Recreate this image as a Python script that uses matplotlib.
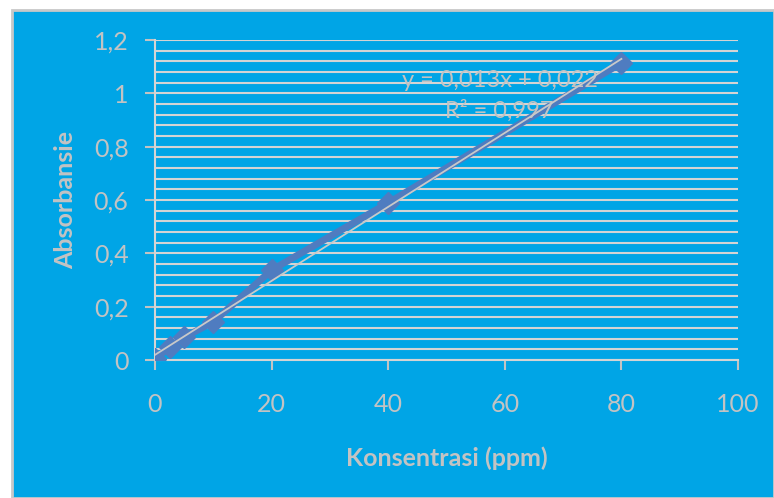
import numpy as np
import matplotlib
matplotlib.use("Agg")
import matplotlib.pyplot as plt
from matplotlib.patches import Rectangle

# data
konsentrasi = [0, 2.5, 5, 10, 20, 40, 80]
absorbansi = [0.005, 0.047, 0.085, 0.143, 0.337, 0.589, 1.114]
x_ticks = [0, 20, 40, 60, 80, 100]
y_ticks = [0, 0.2, 0.4, 0.6, 0.8, 1.0, 1.2]
y_tick_labels = ["0", "0,2", "0,4", "0,6", "0,8", "1", "1,2"]
eq_text = "y = 0,013x + 0,022"
r2_text = "R² = 0,997"

BG = "#00A5E6"
GRID = "#D4D4D4"
TXT = "#C3C3C3"
SERIES = "#4F7CC0"

plt.rcParams["font.family"] = ["Lato", "DejaVu Sans"]

fig = plt.figure(figsize=(7.74, 4.98), dpi=100)
fig.patch.set_facecolor("white")
fig.patches.append(Rectangle((12 / 774, 0), 1 - 12 / 774, 1 - 10 / 498,
                             transform=fig.transFigure, facecolor=BG,
                             edgecolor="#C8C8C8", lw=2, zorder=-10))

ax = fig.add_axes([155 / 774, 1 - 360 / 498, (738 - 155) / 774, 320 / 498])
ax.set_zorder(5)
ax.set_facecolor("none")
ax.set_xlim(0, 100)
ax.set_ylim(0, 1.2)

for g in np.arange(0, 1.2001, 0.04):
    ax.axhline(g, color=GRID, lw=1.5, zorder=1)

# series line + markers
ax.plot(konsentrasi, absorbansi, color=SERIES, lw=5, marker="D", ms=11,
        mfc=SERIES, mec=SERIES, zorder=3, solid_capstyle="butt")

# linear trendline
k, b = np.polyfit(konsentrasi, absorbansi, 1)
tx = np.array([0, max(konsentrasi)])
ax.plot(tx, k * tx + b, color="#C9C9C9", lw=1.3, zorder=4)

ax.text(0.591, 0.875, eq_text, transform=ax.transAxes, ha="center", va="center",
        color=TXT, fontsize=17)
ax.text(0.591, 0.78, r2_text, transform=ax.transAxes, ha="center", va="center",
        color=TXT, fontsize=17)

for s in ["top", "right"]:
    ax.spines[s].set_visible(False)
for s in ["left", "bottom"]:
    ax.spines[s].set_color(GRID)
    ax.spines[s].set_linewidth(1.5)

ax.set_xticks(x_ticks)
ax.set_xticklabels([str(v) for v in x_ticks])
ax.set_yticks(y_ticks)
ax.set_yticklabels(y_tick_labels)
ax.tick_params(colors=TXT, labelsize=18, length=7, width=1.5, direction="out")
ax.tick_params(axis="y", pad=12)
ax.tick_params(axis="x", pad=17)
for t in ax.get_xticklabels() + ax.get_yticklabels():
    t.set_color(TXT)

ax.set_xlabel("Konsentrasi (ppm)", color=TXT, fontsize=18, fontweight="bold", labelpad=22)
ax.set_ylabel("Absorbansie", color=TXT, fontsize=18, fontweight="bold", labelpad=12)

fig.savefig("out.png", dpi=100, facecolor=fig.get_facecolor())
